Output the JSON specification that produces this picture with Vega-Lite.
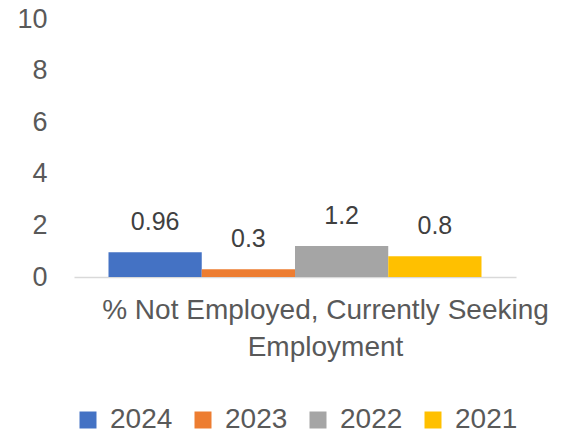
{
  "$schema": "https://vega.github.io/schema/vega-lite/v6.json",
  "autosize": "none",
  "width": 442,
  "height": 258,
  "padding": {"left": 74, "top": 19, "right": 57, "bottom": 157},
  "background": "white",
  "config": {
    "view": {"stroke": null},
    "font": "Liberation Sans",
    "text": {"font": "Liberation Sans"}
  },
  "data": {
    "values": [
      {"category": "% Not Employed, Currently Seeking Employment", "year": "2024", "value": 0.96, "label": "0.96"},
      {"category": "% Not Employed, Currently Seeking Employment", "year": "2023", "value": 0.3, "label": "0.3"},
      {"category": "% Not Employed, Currently Seeking Employment", "year": "2022", "value": 1.2, "label": "1.2"},
      {"category": "% Not Employed, Currently Seeking Employment", "year": "2021", "value": 0.8, "label": "0.8"}
    ]
  },
  "encoding": {
    "x": {
      "field": "category",
      "type": "nominal",
      "scale": {"paddingInner": 0, "paddingOuter": 0.0925},
      "axis": {
        "title": ["% Not Employed, Currently Seeking", "Employment"],
        "labels": false,
        "ticks": false,
        "domain": true,
        "domainColor": "#D9D9D9",
        "domainWidth": 1.5,
        "titleFont": "Liberation Sans",
        "titleFontSize": 28,
        "titleFontWeight": "normal",
        "titleColor": "#595959",
        "titleLineHeight": 37,
        "titlePadding": 19,
        "titleX": 251
      }
    },
    "xOffset": {
      "field": "year",
      "type": "nominal",
      "sort": ["2024", "2023", "2022", "2021"],
      "scale": {"paddingInner": 0, "paddingOuter": 0}
    },
    "y": {
      "field": "value",
      "type": "quantitative",
      "scale": {"domain": [0, 10], "nice": false},
      "axis": {
        "title": null,
        "values": [0, 2, 4, 6, 8, 10],
        "grid": false,
        "domain": false,
        "ticks": false,
        "labelPadding": 27,
        "labelFont": "Liberation Sans",
        "labelFontSize": 27,
        "labelColor": "#595959"
      }
    }
  },
  "layer": [
    {
      "mark": {"type": "bar"},
      "encoding": {
        "color": {
          "field": "year",
          "type": "nominal",
          "sort": ["2024", "2023", "2022", "2021"],
          "scale": {
            "domain": ["2024", "2023", "2022", "2021"],
            "range": ["#4472C4", "#ED7D31", "#A5A5A5", "#FFC000"]
          },
          "legend": {
            "title": null,
            "orient": "bottom",
            "direction": "horizontal",
            "symbolType": "square",
            "symbolSize": 289,
            "symbolStrokeWidth": 0,
            "labelFont": "Liberation Sans",
            "labelFontSize": 28,
            "labelColor": "#595959",
            "columnPadding": 16,
            "labelOffset": 8,
            "offset": 45
          }
        }
      }
    },
    {
      "mark": {"type": "text", "baseline": "middle", "dy": -30, "fontSize": 25, "color": "#404040", "font": "Liberation Sans"},
      "encoding": {
        "text": {"field": "label", "type": "nominal"}
      }
    }
  ]
}
